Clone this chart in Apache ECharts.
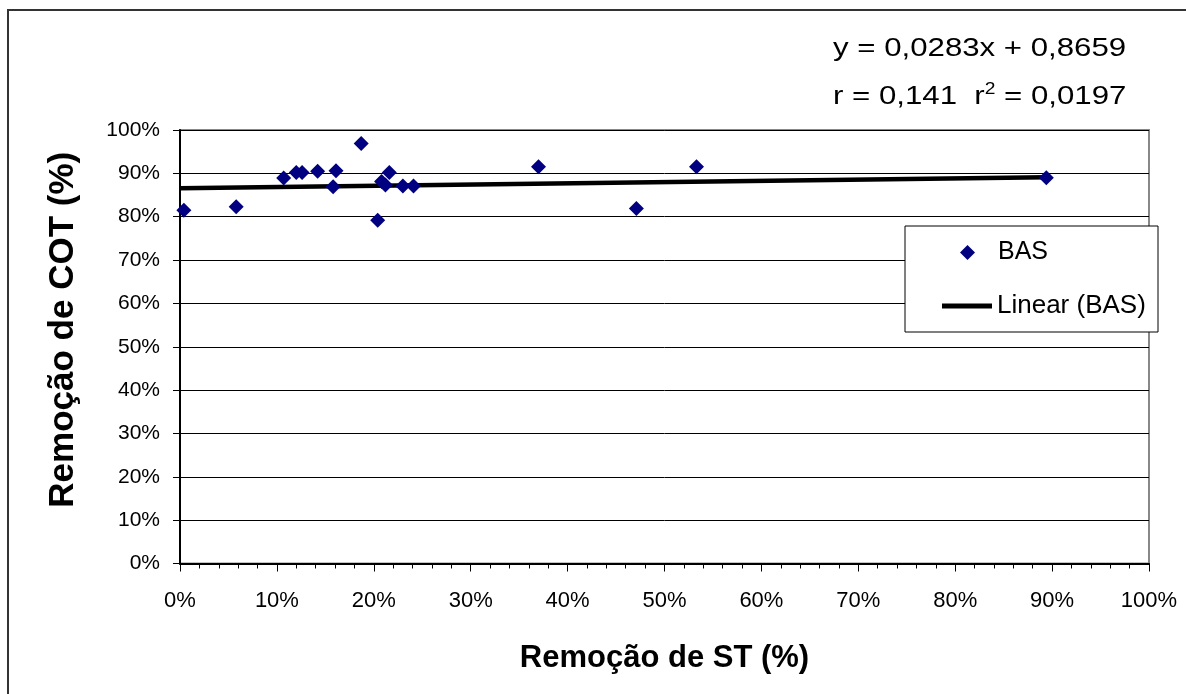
<!DOCTYPE html>
<html>
<head>
<meta charset="utf-8">
<script src="https://cdn.jsdelivr.net/npm/echarts@6/dist/echarts.min.js"></script>
<style>
  html, body { margin: 0; padding: 0; background: #fff; }
  #chart { width: 1186px; height: 694px; }
</style>
</head>
<body>
<div id="chart"></div>
<script>
// Remoção de ST (%) vs Remoção de COT (%) — series "BAS"
const stRemoval  = [0.4, 5.8, 10.7, 12.0, 12.6, 14.2, 16.1, 15.8, 18.7, 20.4, 20.8, 21.2, 21.6, 23.0, 24.1, 37.0, 53.3, 47.1, 89.4];
const cotRemoval = [81.5, 82.3, 88.9, 90.2, 90.2, 90.5, 90.6, 86.9, 96.9, 79.2, 88.1, 87.3, 90.2, 87.1, 87.1, 91.5, 91.5, 81.9, 89.0];
const seriesName = 'BAS';
const trendName = 'Linear (BAS)';
const trendSlope = 0.0283;
const trendIntercept = 0.8659;
const xTicks = [0, 10, 20, 30, 40, 50, 60, 70, 80, 90, 100];
const yTicks = [0, 10, 20, 30, 40, 50, 60, 70, 80, 90, 100];
const eqLine1 = 'y = 0,0283x + 0,8659';
const eqLine2a = 'r = 0,141  r';
const eqLine2b = '2';
const eqLine2c = ' = 0,0197';

const FONT = '"Liberation Sans", Arial, Helvetica, sans-serif';

const points = stRemoval.map((x, i) => [x, cotRemoval[i]]);
const xMaxData = Math.max(...stRemoval);
const trendPts = [0, xMaxData].map(x => [x, (trendSlope * x / 100 + trendIntercept) * 100]);

const chart = echarts.init(document.getElementById('chart'), null, { renderer: 'canvas' });
chart.setOption({
  animation: false,
  backgroundColor: '#fff',
  textStyle: { fontFamily: FONT, color: '#000' },
  grid: {
    left: 180, top: 130, right: 37, bottom: 130.5,
    show: true, borderColor: '#888', borderWidth: 2, backgroundColor: 'transparent'
  },
  xAxis: {
    type: 'value', min: xTicks[0], max: xTicks[xTicks.length - 1], interval: 10,
    name: 'Remoção de ST (%)', nameLocation: 'middle', nameGap: 79,
    nameTextStyle: { fontSize: 31, fontWeight: 'bold', color: '#000', fontFamily: FONT },
    axisLine: { show: true, lineStyle: { color: '#000', width: 2 } },
    axisTick: { show: true, inside: false, length: 8, lineStyle: { color: '#000', width: 1 } },
    minorTick: { show: true, splitNumber: 5, length: 5, lineStyle: { color: '#000', width: 1 } },
    axisLabel: { formatter: '{value}%', fontSize: 22, color: '#000', margin: 26, fontFamily: FONT },
    splitLine: { show: false }
  },
  yAxis: {
    type: 'value', min: yTicks[0], max: yTicks[yTicks.length - 1], interval: 10,
    name: 'Remoção de COT (%)', nameLocation: 'middle', nameGap: 99,
    nameTextStyle: { fontSize: 35, fontWeight: 'bold', color: '#000', fontFamily: FONT, padding: [0, 0, 0, 34] },
    axisLine: { show: true, lineStyle: { color: '#000', width: 2 } },
    axisTick: { show: true, inside: false, length: 7, lineStyle: { color: '#000', width: 1 } },
    axisLabel: { formatter: '{value}%', fontSize: 21, color: '#000', margin: 20, fontFamily: FONT },
    splitLine: { show: true, lineStyle: { color: '#000', width: 1 } }
  },
  legend: [
    {
      orient: 'vertical', left: 960, top: 240, z: 20,
      itemWidth: 15, itemHeight: 15, padding: 0,
      textStyle: { fontSize: 25, color: '#000', fontFamily: FONT, padding: [0, 0, 0, 18] },
      data: [{ name: seriesName, icon: 'diamond', itemStyle: { color: '#000080', opacity: 1 } }]
    },
    {
      orient: 'vertical', left: 942, top: 293, z: 20,
      itemWidth: 50, itemHeight: 5, padding: 0,
      textStyle: { fontSize: 26, color: '#000', fontFamily: FONT, padding: [0, 0, 0, 0] },
      data: [{ name: trendName, icon: 'rect', itemStyle: { color: '#000' } }]
    }
  ],
  series: [
    {
      name: trendName, type: 'line', data: trendPts, symbol: 'none',
      lineStyle: { color: '#000', width: 4.5 }, itemStyle: { color: '#000' }, z: 3, silent: true
    },
    {
      name: seriesName, type: 'scatter', data: points, symbol: 'diamond', symbolSize: 15,
      itemStyle: { color: '#000080', opacity: 1 }, z: 4
    }
  ],
  graphic: [
    {
      type: 'rect', z: 0, silent: true,
      shape: { x: 8, y: 10, width: 1300, height: 800 },
      style: { fill: 'none', stroke: '#333', lineWidth: 2 }
    },
    {
      type: 'rect', z: 10, silent: true,
      shape: { x: 905, y: 226, width: 253, height: 106 },
      style: { fill: '#fff', stroke: '#000', lineWidth: 1 }
    },
    {
      type: 'text', z: 10, x: 833, y: 36, scaleX: 1.2,
      style: { text: eqLine1, font: '26px ' + FONT, fill: '#000' }
    },
    {
      type: 'text', z: 10, x: 833, y: 82, scaleX: 1.2,
      style: {
        text: '{a|' + eqLine2a + '}{s|' + eqLine2b + '}{a|' + eqLine2c + '}',
        rich: {
          a: { fontSize: 26, fontFamily: FONT, color: '#000' },
          s: { fontSize: 16, fontFamily: FONT, color: '#000', verticalAlign: 'top', padding: [0, 0, 14, 0] }
        }
      }
    }
  ]
});
</script>
</body>
</html>
